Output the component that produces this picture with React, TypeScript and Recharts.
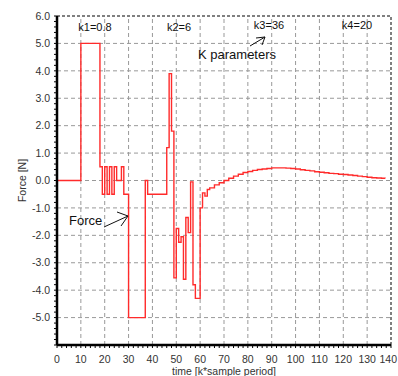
import React from 'react';
import { LineChart, Line, XAxis, YAxis, ReferenceLine } from 'recharts';

// sample index k and the applied force (stepped)
const time = [
  0, 10, 18, 19, 20, 21, 22, 23, 24, 25, 27, 28, 30, 37, 38,
  46, 47, 48, 49, 50, 51, 52, 53, 54, 55, 56, 57, 58, 60, 61, 62, 63,
  64, 66, 68, 70, 72, 74, 76, 78, 80, 82, 84, 86, 88, 90, 92, 94, 96, 98,
  100, 102, 104, 106, 108, 110, 112, 114, 116, 118, 120, 122, 124, 126, 128,
  130, 132, 134, 136, 137.5,
];
const force = [
  0, 5, 0.5, -0.5, 0.5, -0.5, 0.5, -0.5, 0.5, 0, 0.5, -0.5, -5, 0, -0.5,
  1.2, 3.9, 1.8, -3.55, -1.75, -2.25, -2.05, -3.6, -1.35, -1.9, -0.05, -3.8, -4.3, -1.0, -0.45, -0.57, -0.33,
  -0.27, -0.16, -0.08, 0.0, 0.08, 0.16, 0.23, 0.29, 0.33, 0.37, 0.4, 0.42, 0.44, 0.46, 0.46, 0.46, 0.45, 0.44,
  0.42, 0.39, 0.37, 0.35, 0.32, 0.3, 0.28, 0.26, 0.25, 0.23, 0.22, 0.2, 0.18, 0.16, 0.14,
  0.12, 0.1, 0.09, 0.08, 0.07,
];

const xGrid = [10, 20, 30, 40, 50, 60, 70, 80, 90, 100, 110, 120, 130];
const yGrid = [-5, -4, -3, -2, -1, 0, 1, 2, 3, 4, 5];
const xTicks = Array.from({ length: 71 }, (_, i) => i * 2);
const yTicks = Array.from({ length: 61 }, (_, i) => Math.round((-6 + i * 0.2) * 10) / 10);

const data = time.map((k, i) => ({ k, f: force[i] }));

const FONT = '"Liberation Sans", Arial, sans-serif';
const TXT = '#333';

const fmtY = (v: number) => {
  if (Math.abs(v - Math.round(v)) > 1e-6 || v <= -6) return '';
  const r = Math.round(v);
  return r === 0 ? '0.0' : r.toFixed(1);
};

const XTick = (props: any) => {
  const { x, y, payload } = props;
  const v = payload.value;
  if (v % 10 !== 0) return <g />;
  const last = v === 140;
  return (
    <text
      x={last ? 397 : x}
      y={y + 9}
      textAnchor={last ? 'end' : 'middle'}
      fill={TXT}
      fontSize={10.5}
      fontFamily={FONT}
    >
      {v}
    </text>
  );
};

export default function App() {
  return (
    <div style={{ position: 'absolute', left: 0, top: 0, width: 398, height: 376, background: '#fff' }}>
      <LineChart width={398} height={376} data={data} margin={{ top: 16, right: 7, bottom: 0, left: 0 }}>
        {yGrid.map((y) => (
          <ReferenceLine key={'y' + y} y={y} stroke="#999" strokeDasharray="4 3" />
        ))}
        {xGrid.map((x) => (
          <ReferenceLine key={'x' + x} x={x} stroke="#999" strokeDasharray="4 3" />
        ))}
        <ReferenceLine y={6} stroke="#000" strokeDasharray="3 2" />
        <ReferenceLine x={140} stroke="#000" strokeDasharray="3 2" />
        <XAxis
          dataKey="k"
          type="number"
          domain={[0, 140]}
          ticks={xTicks}
          interval={0}
          height={31}
          tickSize={3}
          tickMargin={6}
          axisLine={{ stroke: '#000', strokeWidth: 2.5 }}
          tickLine={{ stroke: '#000' }}
          tick={<XTick />}
          label={{ value: 'time [k*sample period]', position: 'insideBottom', offset: 1, fill: TXT, fontSize: 10.5, fontFamily: FONT }}
        />
        <YAxis
          type="number"
          domain={[-6, 6]}
          ticks={yTicks}
          interval={0}
          tickFormatter={fmtY}
          width={57}
          tickSize={3}
          tickMargin={4}
          axisLine={{ stroke: '#000', strokeWidth: 2.5 }}
          tickLine={{ stroke: '#000' }}
          tick={{ fill: TXT, fontSize: 10.5, fontFamily: FONT }}
          label={{ value: 'Force [N]', angle: -90, position: 'center', dx: -6, fill: TXT, fontSize: 10.5, fontFamily: FONT }}
        />
        <Line
          type="stepAfter"
          dataKey="f"
          stroke="#ff2b2b"
          strokeWidth={1.4}
          dot={false}
          isAnimationActive={false}
        />
      </LineChart>
      <svg
        width={398}
        height={376}
        style={{ position: 'absolute', left: 0, top: 0, pointerEvents: 'none' }}
        fontFamily={FONT}
      >
        <text x={95} y={31} fontSize={11} fill="#111" textAnchor="middle">k1=0.8</text>
        <text x={179} y={31} fontSize={11} fill="#111" textAnchor="middle">k2=6</text>
        <text x={269} y={29} fontSize={11} fill="#111" textAnchor="middle">k3=36</text>
        <text x={357} y={29} fontSize={11} fill="#111" textAnchor="middle">k4=20</text>
        <text x={198} y={59} fontSize={13} fill="#111">K parameters</text>
        <text x={69} y={225} fontSize={13} fill="#111">Force</text>
        <g stroke="#111" strokeWidth={1} fill="none">
          <line x1={250} y1={46} x2={265} y2={37} />
          <polyline points="256,38 265,37 262,45" />
          <line x1={104} y1={227} x2={128} y2={216} />
          <polyline points="117,212 128,216 121,226" />
        </g>
      </svg>
    </div>
  );
}
